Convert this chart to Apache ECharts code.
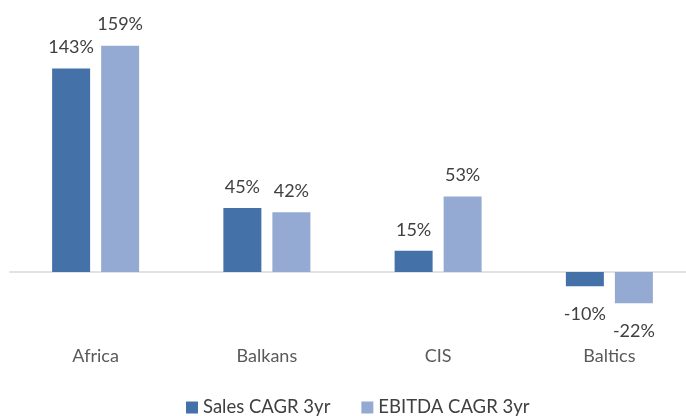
<!DOCTYPE html>
<html><head><meta charset="utf-8">
<script src="https://cdn.jsdelivr.net/npm/echarts@6/dist/echarts.min.js"></script>
<style>html,body{margin:0;padding:0;background:#fff}#c{width:686px;height:416px}</style>
</head><body><div id="c"></div>
<script>
const categories = ['Africa', 'Balkans', 'CIS', 'Baltics'];
const salesName = 'Sales CAGR 3yr';
const ebitdaName = 'EBITDA CAGR 3yr';
const salesValues = [143, 45, 15, -10];
const ebitdaValues = [159, 42, 53, -22];

const FONT = 'Lato';
function toData(arr) {
  return arr.map(v => v < 0 ? {value: v, label: {position: 'bottom', distance: 19}} : v);
}
const labelCfg = {show: true, position: 'top', distance: 12, formatter: p => p.value + '%',
  fontFamily: FONT, fontSize: 18, color: '#404040'};

const chart = echarts.init(document.getElementById('c'), null, {renderer: 'canvas'});
chart.setOption({
  animation: false,
  grid: {left: 10, top: 30, width: 685, height: 299, containLabel: false, outerBoundsMode: 'none'},
  legend: {
    top: 393, left: 181, itemWidth: 12, itemHeight: 12, itemGap: 31,
    icon: 'rect',
    textStyle: {fontFamily: FONT, fontSize: 18.5, color: '#404040', padding: [0, 0, 0, 0]},
    data: [salesName, ebitdaName]
  },
  xAxis: {
    type: 'category', data: categories,
    axisLine: {onZero: true, lineStyle: {color: '#D9D9D9', width: 1.5}},
    axisTick: {show: false},
    axisLabel: {margin: 18, fontFamily: FONT, fontSize: 18, color: '#595959'}
  },
  yAxis: {
    type: 'value', min: -40, max: 170, show: false,
    splitLine: {show: false}
  },
  series: [
    {name: salesName, type: 'bar', data: toData(salesValues), barWidth: 38, barGap: '29%',
     itemStyle: {color: '#4472A8'}, label: labelCfg},
    {name: ebitdaName, type: 'bar', data: toData(ebitdaValues), barWidth: 38,
     itemStyle: {color: '#95AAD2'}, label: labelCfg}
  ]
});
</script></body></html>
